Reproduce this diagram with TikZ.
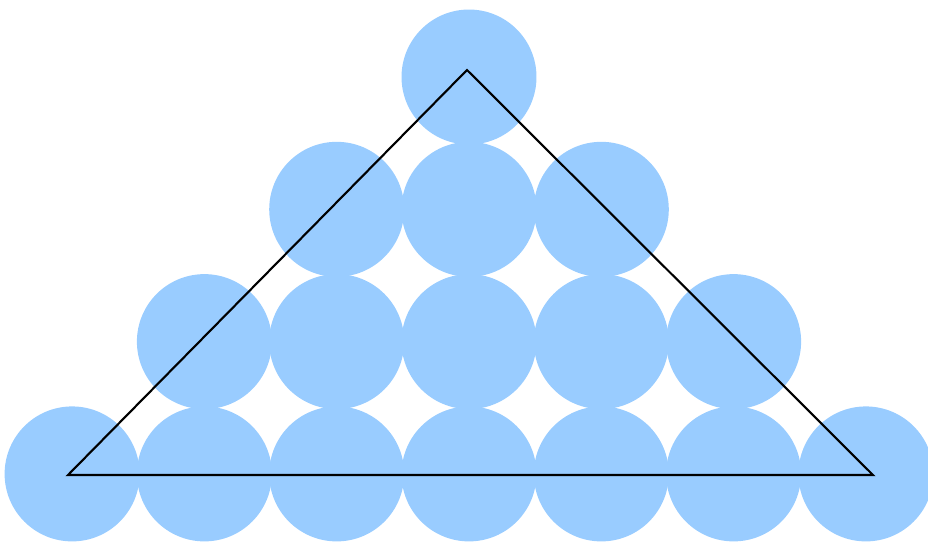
\documentclass[tikz,border=0pt]{standalone}
\usepackage{xcolor}
\usepackage{tikz}
\definecolor{ballblue}{HTML}{99CCFF}

\begin{document}
\begin{tikzpicture}[x=0.02cm,y=-0.02cm,
  ball/.style={circle,fill=ballblue,minimum size=2.7cm,inner sep=0pt},
  side/.style={line width=1.2pt,black}
]
\useasboundingbox (0,0) rectangle (928,542);
% rows of balls: row r holds 2r+1 balls
\foreach \r in {0,...,3}{
  \pgfmathtruncatemacro{\last}{2*\r}
  \foreach \c in {0,...,\last}{
    \node[ball] (b-\r-\c) at ({469+132.3*(\c-\r)},{77+132.3*\r}) {};
  }
}
\coordinate (apex)  at (467,70);
\coordinate (left)  at (68,475);
\coordinate (right) at (873,475);
\draw[side] (left)--(apex)--(right)--cycle;
\end{tikzpicture}
\end{document}
